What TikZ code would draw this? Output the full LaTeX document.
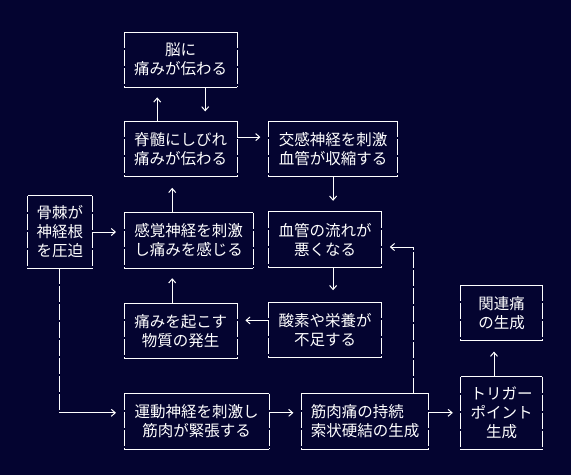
\documentclass[tikz,border=0pt]{standalone}
\usepackage{fontspec}
\setmainfont{Noto Sans CJK JP}
\usetikzlibrary{arrows.meta,positioning}
\definecolor{bgnavy}{RGB}{4,4,48}

\begin{document}
\begin{tikzpicture}[
  x=1pt, y=-1pt,
  font=\fontsize{15.5}{19}\selectfont,
  rule/.style={draw=white, line width=1pt},
  side/.style={rule, dash pattern=on 16pt off 2pt},
  box/.style={text=white, align=center, inner sep=0pt,
              minimum width=#1, minimum height=55pt,
              append after command={
                (\tikzlastnode.north west) edge[rule] (\tikzlastnode.north east)
                (\tikzlastnode.south west) edge[rule] (\tikzlastnode.south east)
                (\tikzlastnode.north west) edge[side] (\tikzlastnode.south west)
                (\tikzlastnode.north east) edge[side] (\tikzlastnode.south east)}},
  tall/.style={minimum height=72pt},
  arr/.style={rule, -{Straight Barb[length=4pt,width=7pt]}, shorten >=#1},
  arr/.default=8pt
]
\fill[bgnavy] (0,0) rectangle (571,475);

% left column
\node[box=113pt, anchor=north west] (nou) at (124,32) {脳に\\痛みが伝わる};
\node[box=113pt, below=34pt of nou.south west, anchor=north west] (sekizui) {脊髄にしびれ\\痛みが伝わる};
\node[box=129pt, below=36pt of sekizui.south west, anchor=north west] (kankaku) {感覚神経を刺激\\し痛みを感じる};
\node[box=113pt, below=35pt of kankaku.south west, anchor=north west] (itami) {痛みを起こす\\物質の発生};
\node[box=145pt, below=35pt of itami.south west, anchor=north west] (undo) {運動神経を刺激し\\筋肉が緊張する};
\node[box=64pt, tall, left=32pt of kankaku.south west, anchor=south east] (kotsu) {骨棘が\\神経根\\を圧迫};

% middle column
\node[box=129pt, right=31pt of sekizui.north east, anchor=north west] (kosin) {交感神経を刺激\\血管が収縮する};
\node[box=113pt, below=35pt of kosin.south west, anchor=north west] (ketsuryu) {血管の流れが\\悪くなる};
\node[box=113pt, below=35pt of ketsuryu.south west, anchor=north west] (sanso) {酸素や栄養が\\不足する};
\node[box=127pt, align=left, right=32pt of undo.north east, anchor=north west] (kinniku) {筋肉痛の持続\\索状硬結の生成};

% right column
\node[box=81pt, tall, right=32pt of kinniku.south east, anchor=south west] (trigger) {トリガー\\ポイント\\生成};
\node[box=81pt, above=36pt of trigger.north west, anchor=south west] (kanren) {関連痛\\の生成};

\draw[arr=10pt] ([xshift=-23.5pt]sekizui.north) -- ([xshift=-23.5pt]sekizui.north |- nou.south);
\draw[arr=10pt] ([xshift=24.5pt]nou.south) -- ([xshift=24.5pt]nou.south |- sekizui.north);
\draw[arr] ([yshift=12pt]sekizui.east) -- ([yshift=12pt]sekizui.east -| kosin.west);
\draw[arr=11pt] (kosin.south) -- (kosin.south |- ketsuryu.north);
\draw[arr=11pt] ([xshift=-16.5pt]kankaku.north) -- ([xshift=-16.5pt]kankaku.north |- sekizui.south);
\draw[arr] (kotsu.east) -- (kotsu.east -| kankaku.west);
\draw[arr=10pt] ([xshift=-8.5pt]itami.north) -- ([xshift=-8.5pt]itami.north |- kankaku.south);
\draw[arr=12pt] (kosin.south |- ketsuryu.south) -- (kosin.south |- sanso.north);
\draw[arr] ([yshift=9.5pt]sanso.west) -- ([yshift=9.5pt]sanso.west -| itami.east);

% nerve root pressure down to the motor nerve
\coordinate (elbow) at (kotsu.south |- trigger.west);
\draw[side] (kotsu.south) -- (elbow);
\draw[arr] (elbow) -- (elbow -| undo.west);
\draw[arr] (undo.east |- trigger.west) -- (kinniku.west |- trigger.west);
\draw[arr] (kinniku.east |- trigger.west) -- (trigger.west);

% loop back to blood flow
\coordinate (kup) at ([xshift=-15pt]kinniku.north east);
\coordinate (ret) at ([yshift=-7.5pt]ketsuryu.east -| kup);
\draw[side] (kup) -- (ret);
\draw[arr] (ret) -- (ret -| ketsuryu.east);

\draw[arr=11pt] ([xshift=-7.5pt]trigger.north) -- ([xshift=-7.5pt]trigger.north |- kanren.south);
\end{tikzpicture}
\end{document}
